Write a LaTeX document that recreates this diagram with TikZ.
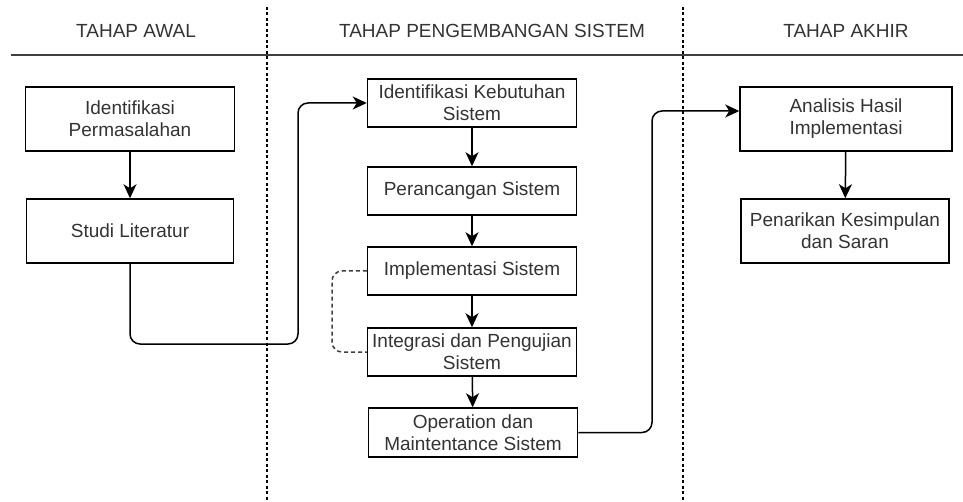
\documentclass[tikz,border=0pt]{standalone}
\usepackage{fontspec}
\setmainfont{Liberation Sans}
\usetikzlibrary{arrows.meta,positioning,calc}
\definecolor{ctext}{HTML}{333333}
\definecolor{cline}{HTML}{404040}

\begin{document}
\begin{tikzpicture}[x=1pt,y=-1pt,every node/.style={font=\fontsize{19}{22}\selectfont,text=ctext},
  stage/.style={draw=black,line width=1.5pt,align=center,inner sep=0pt,minimum width=209pt,minimum height=64pt},
  substage/.style={stage,minimum height=48pt},
  flow/.style={black,line width=1.5pt,-{Stealth[length=14pt,width=13pt,inset=4pt]}},
  feedback/.style={cline,line width=1.5pt,dash pattern=on 4pt off 3pt,rounded corners=10pt}]
  \useasboundingbox (0,0) rectangle (963,502);
  \node (awal) at (136,31) {TAHAP AWAL};
  \node (kembang) at (492,31) {TAHAP PENGEMBANGAN SISTEM};
  \node (akhir) at (846,31) {TAHAP AKHIR};
  \draw[cline,line width=2pt] (11,55) -- (963,55);
  \foreach \x in {267,683}{\draw[black,line width=1.2pt,dash pattern=on 3pt off 2.5pt] (\x,7) -- (\x,502);}
  \node[stage] (masalah) at (130,119) {Identifikasi\\Permasalahan};
  \node[stage,minimum width=207pt] (studi) at (130,231) {Studi Literatur};
  \node[substage] (kebutuhan) at (472,103) {Identifikasi Kebutuhan\\Sistem};
  \node[substage] (rancang) at (472,191) {Perancangan Sistem};
  \node[substage] (implementasi) at (472,271) {Implementasi Sistem};
  \node[substage] (integrasi) at (472,352) {Integrasi dan Pengujian\\Sistem};
  \node[substage,minimum height=49pt] (operasi) at (473,432.5) {Operation dan\\Maintentance Sistem};
  \node[stage,minimum width=212pt] (analisis) at (846,119) {Analisis Hasil\\Implementasi};
  \node[stage,minimum width=208pt] (simpulan) at (845,231) {Penarikan Kesimpulan\\dan Saran};
  \coordinate (j1) at (298,344);
  \coordinate (j2) at (652,111);
  \coordinate (j3) at (332,311);
  \draw[flow] (masalah) -- (studi);
  \draw[flow,rounded corners=10pt] (studi.south) |- (j1) |- (kebutuhan.west);
  \draw[flow] (kebutuhan) -- (rancang);
  \draw[flow] (rancang) -- (implementasi);
  \draw[flow] (implementasi) -- (integrasi);
  \draw[flow] (integrasi) -- (operasi);
  \draw[feedback] (implementasi.west) -| (j3) |- (integrasi.west);
  \draw[flow,rounded corners=10pt] (operasi.east) -| (j2) -- (j2 -| analisis.west);
  \draw[flow] (analisis) -- (simpulan);
\end{tikzpicture}
\end{document}
